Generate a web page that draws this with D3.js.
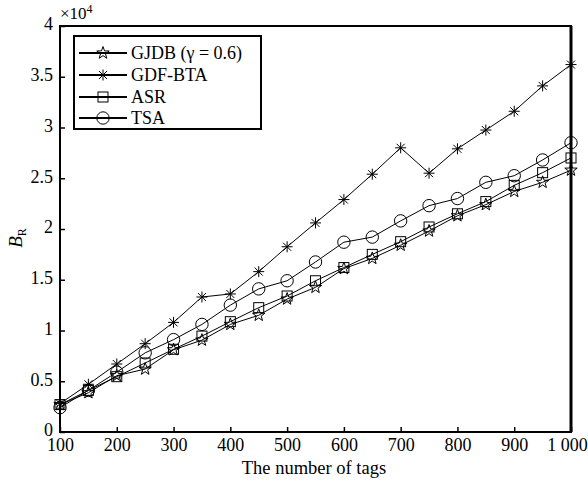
<!DOCTYPE html>
<html>
<head>
<meta charset="utf-8">
<script src="https://cdn.jsdelivr.net/npm/d3@7"></script>
<style>
  html, body { margin: 0; padding: 0; background: #fff; }
  svg { display: block; font-family: "Liberation Serif", "Times New Roman", serif; }
</style>
</head>
<body>
<svg id="chart" width="588" height="484"></svg>
<script>
// Number of tags on the x axis
const tags = [100, 150, 200, 250, 300, 350, 400, 450, 500, 550, 600, 650, 700, 750, 800, 850, 900, 950, 1000];

// B_R values, in units of 10^4
const gjdb   = [0.27, 0.387, 0.555, 0.62, 0.81, 0.905, 1.06, 1.15, 1.31, 1.425, 1.61, 1.71, 1.84, 1.98, 2.13, 2.24, 2.37, 2.46, 2.58];
const gdfbta = [0.28, 0.47, 0.67, 0.87, 1.08, 1.33, 1.36, 1.58, 1.825, 2.06, 2.29, 2.54, 2.80, 2.55, 2.79, 2.975, 3.16, 3.41, 3.62];
const asr    = [0.27, 0.41, 0.545, 0.68, 0.815, 0.945, 1.087, 1.225, 1.34, 1.49, 1.62, 1.75, 1.875, 2.02, 2.15, 2.27, 2.43, 2.555, 2.70];
const tsa    = [0.24, 0.41, 0.59, 0.78, 0.91, 1.06, 1.25, 1.41, 1.49, 1.675, 1.87, 1.92, 2.08, 2.23, 2.30, 2.46, 2.525, 2.68, 2.85];

const seriesNames = ["GJDB (\u03b3 = 0.6)", "GDF-BTA", "ASR", "TSA"];
const seriesMarkers = ["star", "asterisk", "square", "circle"];

const xTicks = [100, 200, 300, 400, 500, 600, 700, 800, 900, 1000];
const xTickLabels = ["100", "200", "300", "400", "500", "600", "700", "800", "900", "1 000"];
const yTicks = [0, 0.5, 1, 1.5, 2, 2.5, 3, 3.5, 4];
const yTickLabels = ["0", "0.5", "1", "1.5", "2", "2.5", "3", "3.5", "4"];

const svg = d3.select("#chart");
const L = 60, R = 571, T = 26, B = 432;

const x = d3.scaleLinear().domain([100, 1000]).range([L, R]);
const y = d3.scaleLinear().domain([0, 4]).range([B, T]);

const series = [gjdb, gdfbta, asr, tsa].map((vals, i) => ({
  name: seriesNames[i],
  marker: seriesMarkers[i],
  points: tags.map((t, j) => ({ t, v: vals[j] }))
}));

// Marker shapes
function starPath(ro) {
  const ri = ro * 0.40;
  const p = [];
  for (let k = 0; k < 10; k++) {
    const r = k % 2 === 0 ? ro : ri;
    const a = -Math.PI / 2 + k * Math.PI / 5;
    p.push([r * Math.cos(a), r * Math.sin(a)]);
  }
  return "M" + p.map(d => d[0].toFixed(2) + "," + d[1].toFixed(2)).join("L") + "Z";
}
function drawMarker(g, type) {
  let m;
  if (type === "star") {
    m = g.append("path").attr("d", starPath(6.5));
  } else if (type === "asterisk") {
    const s = 5.5, d = 4;
    m = g.append("path").attr("d",
      `M${-s},0L${s},0M0,${-s}L0,${s}M${-d},${-d}L${d},${d}M${-d},${d}L${d},${-d}`);
  } else if (type === "square") {
    m = g.append("rect").attr("x", -5).attr("y", -5).attr("width", 10).attr("height", 10);
  } else {
    m = g.append("circle").attr("r", 6.2);
  }
  m.attr("stroke", "#000").attr("stroke-width", 1).attr("fill", "none");
}

// Lines
const line = d3.line().x(d => x(d.t)).y(d => y(d.v));
series.forEach(s => {
  svg.append("path")
    .datum(s.points)
    .attr("d", line)
    .attr("fill", "none")
    .attr("stroke", "#000")
    .attr("stroke-width", 1);
});
// Markers
series.forEach(s => {
  s.points.forEach(p => {
    const g = svg.append("g").attr("transform", `translate(${x(p.t)},${y(p.v)})`);
    drawMarker(g, s.marker);
  });
});

// Axes (ticks pointing inward)
const xAxis = d3.axisBottom(x).tickValues(xTicks).tickSize(-5).tickPadding(6)
  .tickFormat((d, i) => xTickLabels[i]);
const gx = svg.append("g").attr("transform", `translate(0,${B})`).call(xAxis);
gx.select(".domain").remove();
gx.selectAll("line").attr("stroke", "#000").attr("stroke-width", 1.5);
gx.selectAll("text").attr("font-size", 18).attr("font-family", "Liberation Serif").attr("fill", "#000");
// the last label sits flush with the right edge
gx.selectAll(".tick").filter(d => d === 1000).select("text").attr("dx", -4);

const yAxis = d3.axisLeft(y).tickValues(yTicks).tickSize(-5).tickPadding(7)
  .tickFormat((d, i) => yTickLabels[i]);
const gy = svg.append("g").attr("transform", `translate(${L},0)`).call(yAxis);
gy.select(".domain").remove();
gy.selectAll("line").attr("stroke", "#000").attr("stroke-width", 1.5);
gy.selectAll("text").attr("font-size", 18).attr("font-family", "Liberation Serif").attr("fill", "#000")
  .attr("y", -2);

// Frame
svg.append("path")
  .attr("d", `M${L},${T}L${R},${T}L${R},${B}L${L},${B}Z`)
  .attr("fill", "none").attr("stroke", "#000").attr("stroke-width", 2);
svg.append("line").attr("x1", R).attr("x2", R).attr("y1", T).attr("y2", B)
  .attr("stroke", "#000").attr("stroke-width", 3);

// Exponent label
const ex = svg.append("text").attr("x", 60).attr("y", 19).attr("font-size", 17).attr("fill", "#000");
ex.append("tspan").text("\u00d710");
ex.append("tspan").attr("font-size", 12).attr("dy", -6).text("4");

// Axis titles
svg.append("text").attr("x", 314).attr("y", 474).attr("text-anchor", "middle")
  .attr("font-size", 18.5).attr("fill", "#000").text("The number of tags");

const yt = svg.append("text").attr("transform", "translate(22,238) rotate(-90)")
  .attr("text-anchor", "middle").attr("font-size", 19).attr("fill", "#000");
yt.append("tspan").attr("font-style", "italic").text("B");
yt.append("tspan").attr("font-size", 12).attr("dy", 4).text("R");

// Legend
const lg = svg.append("g");
lg.append("rect").attr("x", 74).attr("y", 36).attr("width", 187).attr("height", 93)
  .attr("fill", "#fff").attr("stroke", "#000").attr("stroke-width", 2);
const rowY = [53, 75, 97, 118];
series.forEach((s, i) => {
  lg.append("line").attr("x1", 79).attr("x2", 127).attr("y1", rowY[i]).attr("y2", rowY[i])
    .attr("stroke", "#000").attr("stroke-width", 2);
  const g = lg.append("g").attr("transform", `translate(103,${rowY[i]})`);
  drawMarker(g, s.marker);
  lg.append("text").attr("x", 131).attr("y", rowY[i] + 6).attr("font-size", 18)
    .attr("fill", "#000").text(s.name);
});
</script>
</body>
</html>
